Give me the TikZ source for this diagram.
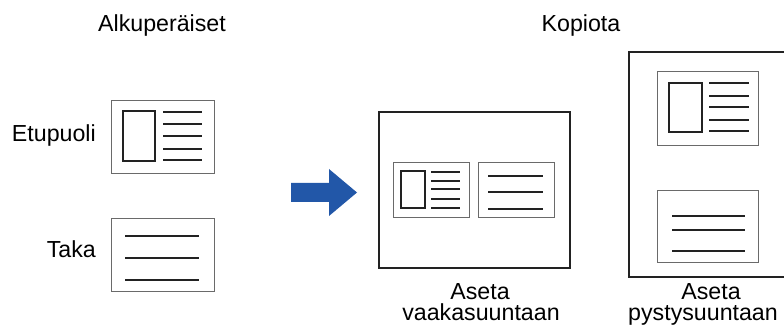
\documentclass[tikz,border=0pt]{standalone}
\usepackage{fontspec}
\setmainfont{Liberation Sans}
\definecolor{arrowblue}{HTML}{2257A8}
\definecolor{frame}{HTML}{6A6A6A}
\definecolor{ink}{HTML}{222222}
\begin{document}
\begin{tikzpicture}[x=1pt,y=-1pt,
  lbl/.style={font=\fontsize{23.2}{22}\selectfont,inner sep=0pt},
  sheet/.style={draw=frame,line width=1pt},
  page/.style={draw=ink,line width=2pt},
  txt/.style={draw=ink,line width=2pt},
  stxt/.style={draw=ink,line width=1.6pt}]
\useasboundingbox (0,0) rectangle (784,328);
% titles
\node[lbl,anchor=base] (t1) at (162,32) {Alkuperäiset};
\node[lbl,anchor=base] (t2) at (581,32) {Kopiota};
\node[lbl,anchor=base east] (front) at (96,142) {Etupuoli};
\node[lbl,anchor=base east] (back) at (96,258) {Taka};
% originals
\draw[sheet] (111,101) rectangle (214,174);
\draw[txt] (123,111) rectangle (155,161);
\foreach \y in {112,124,136,149,160} \draw[txt] (163,\y) -- (202,\y);
\draw[sheet] (111,219) rectangle (214,292);
\foreach \y in {236,258,280} \draw[txt] (125,\y) -- (199,\y);
% arrow
\fill[arrowblue] (291,183) -- (329,183) -- (329,169) -- (357,192.5) -- (329,216) -- (329,202) -- (291,202) -- cycle;
% landscape copy
\draw[page] (379,112) rectangle (570,268);
\draw[sheet] (393,163) rectangle (469,218);
\draw[stxt] (401,171) rectangle (425,208);
\foreach \y in {172,181,189,199,208} \draw[stxt] (431,\y) -- (460,\y);
\draw[sheet] (478,163) rectangle (554,218);
\foreach \y in {176,192,209} \draw[stxt] (488,\y) -- (543,\y);
\node[lbl,anchor=base] (l1) at (480,300) {Aseta};
\node[lbl,anchor=base] (l2) at (481,321) {vaakasuuntaan};
% portrait copy
\draw[draw=ink,line width=1.6pt] (629,52) rectangle (800,277);
\draw[sheet] (657,72) rectangle (758,146);
\draw[txt] (669,83) rectangle (702,132);
\foreach \y in {83,96,107,120,131} \draw[txt] (709,\y) -- (749,\y);
\draw[sheet] (657,191) rectangle (758,263);
\foreach \y in {216,230,251} \draw[txt] (672,\y) -- (745,\y);
\node[lbl,anchor=base] (p1) at (711,300) {Aseta};
\node[lbl,anchor=base] (p2) at (703,321) {pystysuuntaan};
\end{tikzpicture}
\end{document}
